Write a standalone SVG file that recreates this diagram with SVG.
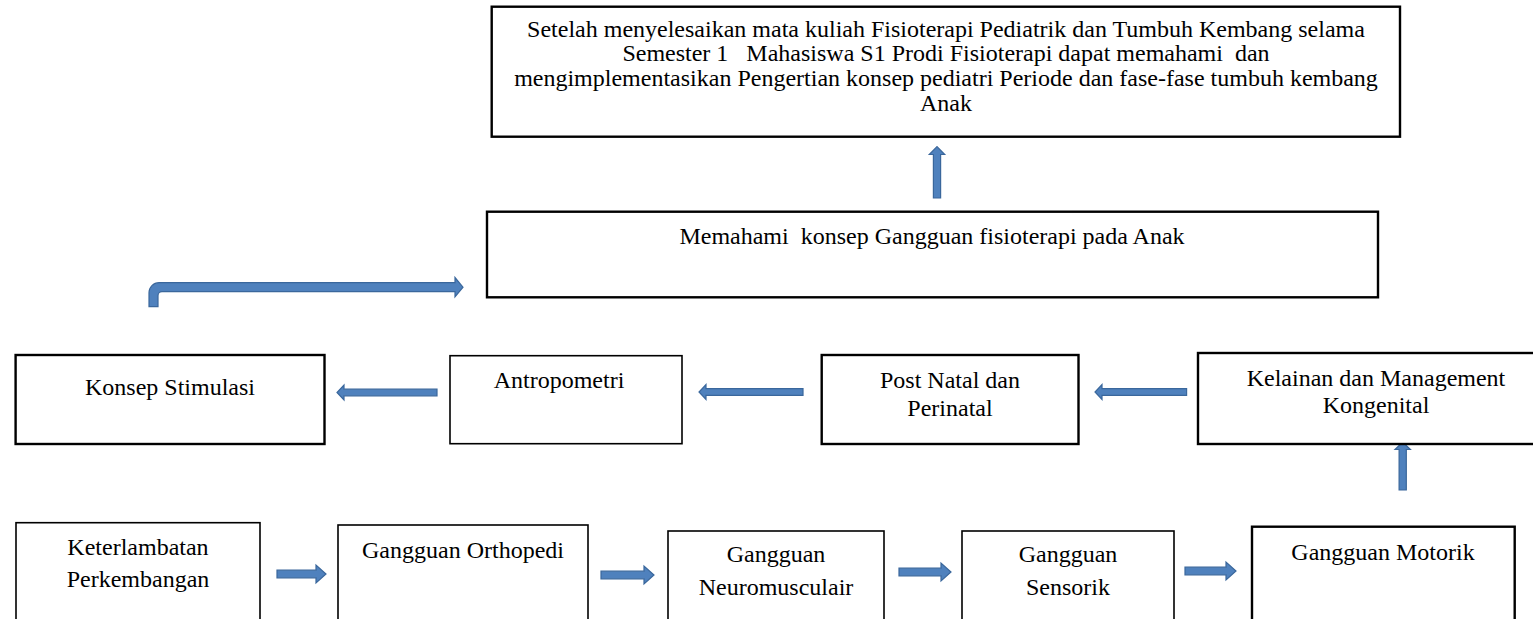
<svg xmlns="http://www.w3.org/2000/svg" width="1533" height="619" viewBox="0 0 1533 619">
<style>
.box{fill:#fff;stroke:#000;stroke-width:1.6}
.thick{stroke-width:2.4}
.t{font-family:"Liberation Serif","Times New Roman",serif;font-size:24px;fill:#000;text-anchor:middle}
.arr{fill:#4F81BD;stroke:#3A679C;stroke-width:1.2;stroke-linejoin:miter}
</style>
<rect width="1533" height="619" fill="#fff"/>
<g id="connectors">
<path class="arr" d="M149,306.7 L149,292.7 A10,10 0 0 1 159,282.7 L455,282.7 L455,277.5 L463,287.2 L455,296.9 L455,291.7 L162,291.7 A4,4 0 0 0 158,295.7 L158,306.7 Z"/>
<path class="arr" d="M933.4,198 L933.4,154.5 L929.3,154.5 L937,146.7 L944.7,154.5 L940.6,154.5 L940.6,198 Z"/>
<path class="arr" d="M1399.1,490 L1399.1,449.5 L1395,449.5 L1402.7,442 L1410.4,449.5 L1406.3,449.5 L1406.3,490 Z"/>
<path class="arr" d="M437,389.2 L344,389.2 L344,385 L337,392.5 L344,400 L344,395.8 L437,395.8 Z"/>
<path class="arr" d="M803,388.7 L706,388.7 L706,384.5 L699,392 L706,399.5 L706,395.3 L803,395.3 Z"/>
<path class="arr" d="M1186.6,388.7 L1102,388.7 L1102,384.5 L1095,392 L1102,399.5 L1102,395.3 L1186.6,395.3 Z"/>
<path class="arr" d="M277,570.2 L316,570.2 L316,565 L326,574 L316,583 L316,577.8 L277,577.8 Z"/>
<path class="arr" d="M601,571.2 L644,571.2 L644,566 L654,575 L644,584 L644,578.8 L601,578.8 Z"/>
<path class="arr" d="M899,568.2 L941,568.2 L941,563 L951,572 L941,581 L941,575.8 L899,575.8 Z"/>
<path class="arr" d="M1185,567.2 L1226,567.2 L1226,562 L1236,571 L1226,580 L1226,574.8 L1185,574.8 Z"/>
</g>
<g id="node-goal">
<rect class="box thick" x="491.7" y="6.7" width="908.3" height="130"/>
<text class="t" x="946" y="37">Setelah menyelesaikan mata kuliah Fisioterapi Pediatrik dan Tumbuh Kembang selama</text>
<text class="t" x="946" y="61" xml:space="preserve">Semester 1   Mahasiswa S1 Prodi Fisioterapi dapat memahami  dan</text>
<text class="t" x="946" y="86">mengimplementasikan Pengertian konsep pediatri Periode dan fase-fase tumbuh kembang</text>
<text class="t" x="946" y="111">Anak</text>
</g>
<g id="node-memahami">
<rect class="box thick" x="487" y="211.7" width="891" height="85.6"/>
<text class="t" x="932" y="244" xml:space="preserve">Memahami  konsep Gangguan fisioterapi pada Anak</text>
</g>
<g id="node-konsep-stimulasi">
<rect class="box thick" x="15.6" y="355" width="308.9" height="89"/>
<text class="t" x="170" y="395">Konsep Stimulasi</text>
</g>
<g id="node-antropometri">
<rect class="box" x="450" y="355.7" width="232" height="88"/>
<text class="t" x="559" y="388">Antropometri</text>
</g>
<g id="node-post-natal">
<rect class="box thick" x="821.7" y="355" width="256.8" height="89"/>
<text class="t" x="950" y="388">Post Natal dan</text>
<text class="t" x="950" y="416">Perinatal</text>
</g>
<g id="node-kelainan">
<rect class="box thick" x="1198" y="353" width="360" height="91"/>
<text class="t" x="1376" y="385.7">Kelainan dan Management</text>
<text class="t" x="1376" y="413">Kongenital</text>
</g>
<g id="node-keterlambatan">
<rect class="box" x="16" y="522.7" width="244" height="110"/>
<text class="t" x="138" y="555">Keterlambatan</text>
<text class="t" x="138" y="587">Perkembangan</text>
</g>
<g id="node-orthopedi">
<rect class="box" x="338" y="525" width="250" height="110"/>
<text class="t" x="463" y="557.7">Gangguan Orthopedi</text>
</g>
<g id="node-neuromusculair">
<rect class="box" x="668" y="531" width="216" height="110"/>
<text class="t" x="776" y="562">Gangguan</text>
<text class="t" x="776" y="595">Neuromusculair</text>
</g>
<g id="node-sensorik">
<rect class="box" x="962" y="531" width="212" height="110"/>
<text class="t" x="1068" y="562">Gangguan</text>
<text class="t" x="1068" y="595">Sensorik</text>
</g>
<g id="node-motorik">
<rect class="box thick" x="1252" y="526.7" width="262.7" height="110"/>
<text class="t" x="1383" y="560">Gangguan Motorik</text>
</g>
</svg>
